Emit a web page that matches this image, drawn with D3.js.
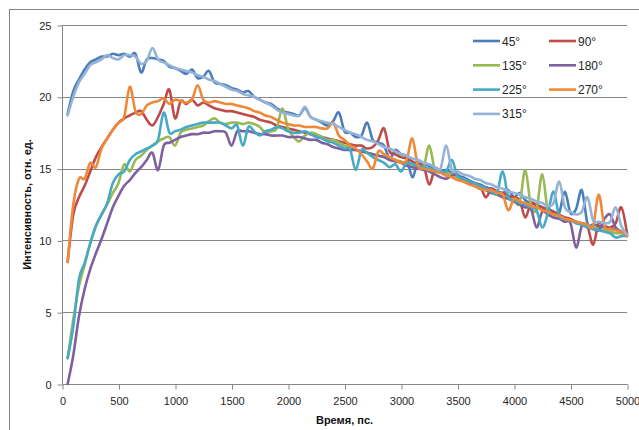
<!DOCTYPE html>
<html lang="ru">
<head>
<meta charset="UTF-8">
<title>Интенсивность</title>
<style>
  body { margin: 0; background: #fff; }
  svg { display: block; font-family: "Liberation Sans", Arial, sans-serif; }
  .tick text { font-size: 11px; fill: #262626; }
  .axis-title { font-size: 11px; font-weight: bold; fill: #111; }
  .legend text { font-size: 12px; fill: #262626; }
</style>
</head>
<body>
<svg id="chart" width="639" height="430"></svg>
<script src="https://cdn.jsdelivr.net/npm/d3@7"></script>
<script>
// time, ps (50 .. 5000 step 50)
const times = [
  50,100,150,200,250,300,350,400,450,500,
  550,600,650,700,750,800,850,900,950,1000,
  1050,1100,1150,1200,1250,1300,1350,1400,1450,1500,
  1550,1600,1650,1700,1750,1800,1850,1900,1950,2000,
  2050,2100,2150,2200,2250,2300,2350,2400,2450,2500,
  2550,2600,2650,2700,2750,2800,2850,2900,2950,3000,
  3050,3100,3150,3200,3250,3300,3350,3400,3450,3500,
  3550,3600,3650,3700,3750,3800,3850,3900,3950,4000,
  4050,4100,4150,4200,4250,4300,4350,4400,4450,4500,
  4550,4600,4650,4700,4750,4800,4850,4900,4950,5000
];

const seriesNames = ["45°", "90°", "135°", "180°", "225°", "270°", "315°"];
const seriesColors = ["#4a7ebb", "#be4b48", "#98b954", "#7d60a0", "#46aac5", "#f0883a", "#95b3d7"];

const s45 = [
  18.8,20.4,21.2,21.9,22.4,22.6,22.8,22.8,23.0,22.9,
  23.0,22.8,23.0,21.7,22.6,22.7,22.6,22.5,22.1,22.0,
  21.8,21.6,21.9,21.3,21.4,21.8,21.0,20.9,20.8,20.6,
  20.5,20.3,20.4,20.0,19.8,19.6,19.5,19.2,19.0,18.9,
  18.8,18.7,19.2,18.6,18.4,18.2,18.0,18.3,18.9,17.6,
  17.5,17.2,17.3,18.2,17.0,16.8,16.6,15.7,16.3,16.0,
  15.8,14.4,15.5,15.3,15.2,15.0,14.8,14.9,14.7,14.5,
  14.4,14.2,14.0,13.9,13.7,13.6,13.4,13.3,13.5,13.0,
  13.3,12.8,12.6,12.5,12.3,12.2,12.0,11.9,13.4,11.9,
  12.2,13.5,11.2,11.1,11.0,10.9,10.8,10.8,10.6,10.4
];
const s90 = [
  8.5,11.8,13.0,13.8,14.8,15.8,16.5,17.1,17.7,18.2,
  18.5,18.7,18.9,19.0,18.4,18.0,18.6,19.5,20.5,18.5,
  19.7,19.5,19.8,19.4,19.6,19.4,19.2,19.1,19.0,19.0,
  18.9,18.8,18.7,18.6,18.4,18.3,18.2,18.0,17.9,17.8,
  17.7,17.6,17.5,17.4,17.3,17.2,17.1,17.0,16.9,16.8,
  16.7,16.6,16.6,16.4,16.5,17.0,17.8,16.2,16.0,15.8,
  15.7,15.5,15.3,15.2,13.9,15.0,14.8,14.7,14.6,14.4,
  14.2,14.0,14.0,13.8,13.0,13.6,13.4,13.3,13.1,13.0,
  12.8,11.6,12.6,12.4,12.3,12.0,12.0,11.8,11.6,11.5,
  11.3,11.2,11.0,9.7,11.2,11.0,10.9,11.2,12.3,10.5
];
const s135 = [
  1.8,4.5,6.8,8.3,9.8,11.0,11.8,12.5,13.3,14.0,
  15.3,14.8,15.6,15.9,16.3,16.6,16.9,17.1,17.2,16.6,
  17.5,17.7,17.8,17.9,18.0,18.3,18.5,18.2,18.1,18.2,
  18.2,18.1,18.2,18.1,17.9,17.5,17.6,17.8,19.2,17.8,
  17.2,16.9,17.3,17.5,17.4,17.2,17.0,17.0,16.8,16.6,
  16.5,16.3,16.2,16.1,16.0,15.9,15.8,15.7,15.6,15.5,
  15.4,15.3,15.2,15.1,16.6,14.9,14.8,14.7,14.6,14.4,
  14.2,14.0,13.8,13.7,13.5,13.4,13.2,13.1,12.9,12.8,
  12.6,14.9,12.4,12.2,14.6,12.0,11.8,11.7,11.5,11.4,
  11.2,11.1,11.0,10.9,10.8,10.7,10.6,10.5,10.5,10.4
];
const s180 = [
  0.0,2.0,4.7,6.6,8.0,9.1,10.1,11.2,12.3,13.1,
  13.8,14.2,14.7,15.1,15.6,16.1,14.9,16.6,16.8,17.0,
  17.2,17.3,17.4,17.4,17.5,17.5,17.6,17.6,17.5,16.6,
  17.6,17.6,17.6,17.5,17.4,17.4,17.3,17.3,17.3,17.2,
  17.2,17.2,17.1,17.0,17.0,16.8,16.7,16.5,16.4,16.3,
  16.3,16.3,16.2,16.1,16.0,15.9,15.8,15.6,15.5,15.4,
  15.2,15.1,15.0,14.9,14.8,14.6,14.4,14.3,14.5,14.6,
  14.1,14.0,13.8,13.6,13.5,13.3,13.2,13.0,12.9,12.7,
  12.5,12.3,12.2,10.9,12.0,11.8,11.6,11.5,11.3,11.2,
  9.5,11.0,10.9,10.8,10.7,11.5,11.8,10.9,10.6,10.4
];
const s225 = [
  1.8,4.0,7.3,8.4,9.8,11.0,11.8,12.6,14.0,14.6,
  14.8,15.6,16.0,16.2,16.4,16.6,17.0,18.9,17.5,17.6,
  17.7,17.9,18.0,18.1,18.2,18.2,18.2,18.2,18.0,17.8,
  18.0,16.6,17.9,17.6,17.3,17.6,17.7,17.9,17.8,17.6,
  17.5,17.5,17.6,17.4,17.2,17.1,16.9,16.8,16.6,16.4,
  16.3,14.9,16.3,16.1,15.8,15.6,15.4,15.1,15.3,14.8,
  15.4,15.3,15.2,15.1,15.0,14.9,14.8,14.8,15.6,14.5,
  14.3,14.1,14.0,13.8,13.6,13.4,13.3,14.8,13.0,12.8,
  12.6,12.5,12.3,12.1,10.9,11.9,13.4,11.7,11.5,11.4,
  11.2,11.1,10.9,10.8,10.7,10.6,10.5,10.2,10.3,10.3
];
const s270 = [
  8.5,12.5,14.3,14.3,15.4,15.1,16.4,17.1,17.7,18.2,
  18.6,20.7,19.0,18.8,19.4,19.6,19.7,19.9,19.5,19.8,
  19.7,19.6,19.8,20.8,19.8,19.6,19.7,19.6,19.5,19.5,
  19.4,19.3,19.2,19.0,18.9,18.7,18.6,18.4,18.2,18.1,
  18.0,18.0,17.9,17.9,17.9,17.8,17.8,18.2,17.3,17.0,
  16.6,16.4,16.0,15.5,15.0,16.2,16.0,15.8,15.6,15.4,
  15.6,17.1,15.2,15.0,14.9,14.8,14.7,14.5,14.4,14.2,
  14.1,13.9,13.8,13.6,13.5,13.5,13.3,13.2,12.1,12.9,
  12.7,12.6,12.4,12.3,12.1,12.0,11.8,11.7,11.5,11.4,
  11.3,11.2,11.1,11.0,13.2,11.0,10.8,10.7,10.6,10.3
];
const s315 = [
  18.7,20.0,21.0,21.6,22.2,22.4,22.6,22.9,22.7,22.6,
  22.9,22.9,22.8,22.3,22.5,23.4,22.6,22.4,22.2,22.0,
  21.9,21.8,21.7,21.5,21.4,21.2,21.1,20.9,20.7,20.5,
  20.4,20.2,20.1,20.0,19.8,19.6,19.4,19.1,18.9,18.8,
  18.7,18.7,19.3,18.6,18.4,18.3,18.2,18.1,17.9,17.7,
  17.5,17.4,17.2,17.0,16.9,16.7,16.5,16.4,16.2,16.0,
  15.9,15.7,15.6,15.4,15.3,15.1,15.0,16.6,14.9,14.8,
  14.6,14.5,14.3,14.2,14.0,13.9,13.7,13.6,13.4,13.3,
  13.2,13.0,12.9,12.7,12.6,12.4,12.6,14.1,12.3,12.0,
  11.8,12.0,13.0,11.4,11.3,11.2,11.3,12.3,11.0,10.4
];
const seriesValues = [s45, s90, s135, s180, s225, s270, s315];

const yTicks = [0, 5, 10, 15, 20, 25];
const xTicks = [0, 500, 1000, 1500, 2000, 2500, 3000, 3500, 4000, 4500, 5000];

const svg = d3.select('#chart');
const gridColor = '#868686';

// chart frame (cut off on the right and bottom in the original)
svg.append('rect')
  .attr('x', 9.5).attr('y', 9.5)
  .attr('width', 700).attr('height', 500)
  .attr('fill', 'none').attr('stroke', gridColor).attr('stroke-width', 1);

const x = d3.scaleLinear().domain([0, 5000]).range([62, 627]);
const y = d3.scaleLinear().domain([0, 25]).range([384, 25]);

// horizontal gridlines
svg.append('g')
  .selectAll('line')
  .data(yTicks.filter(d => d > 0))
  .enter().append('line')
  .attr('x1', x(0)).attr('x2', x(5000))
  .attr('y1', d => Math.round(y(d)) + 0.5).attr('y2', d => Math.round(y(d)) + 0.5)
  .attr('stroke', gridColor).attr('stroke-width', 1);

// axes
const yAxis = svg.append('g')
  .attr('transform', 'translate(' + (x(0) + 0.5) + ',0.5)')
  .call(d3.axisLeft(y).tickValues(yTicks).tickSize(5).tickPadding(6).tickFormat(d3.format('d')));
const xAxis = svg.append('g')
  .attr('transform', 'translate(0.5,' + (Math.round(y(0)) + 0.5) + ')')
  .call(d3.axisBottom(x).tickValues(xTicks).tickSize(5).tickPadding(8).tickFormat(d3.format('d')));

[yAxis, xAxis].forEach(a => {
  a.select('.domain').attr('stroke', gridColor);
  a.selectAll('.tick line').attr('stroke', gridColor);
  a.selectAll('.tick text').attr('font-family', null).attr('font-size', null);
});
// outer domain ticks look like the excel ones: no end caps beyond the tick size
xAxis.select('.domain').attr('d', 'M' + x(0) + ',0H' + x(5000));
yAxis.select('.domain').attr('d', 'M0,' + y(25) + 'V' + y(0));

// axis titles
svg.append('text')
  .attr('class', 'axis-title')
  .attr('x', (x(0) + x(5000)) / 2).attr('y', 424)
  .attr('text-anchor', 'middle')
  .text('Время, пс.');
svg.append('text')
  .attr('class', 'axis-title')
  .attr('transform', 'translate(31,' + ((y(0) + y(25)) / 2) + ') rotate(-90)')
  .attr('text-anchor', 'middle')
  .text('Интенсивность,  отн. ед.');

// lines
const line = d3.line()
  .x((d, i) => x(times[i]))
  .y(d => y(d))
  .curve(d3.curveCardinal.tension(0));

svg.append('g')
  .selectAll('path')
  .data(seriesValues)
  .enter().append('path')
  .attr('d', line)
  .attr('fill', 'none')
  .attr('stroke', (d, i) => seriesColors[i])
  .attr('stroke-width', 2.6)
  .attr('stroke-linejoin', 'round')
  .attr('stroke-linecap', 'round');

// legend, two columns
const legend = svg.append('g').attr('class', 'legend');
const entries = legend.selectAll('g')
  .data(seriesNames)
  .enter().append('g')
  .attr('transform', (d, i) => 'translate(' + (i % 2 === 0 ? 473 : 549) + ',' + (41 + Math.floor(i / 2) * 24.3) + ')');
entries.append('line')
  .attr('x1', 0).attr('x2', 27).attr('y1', 0).attr('y2', 0)
  .attr('stroke', (d, i) => seriesColors[i])
  .attr('stroke-width', 2.6);
entries.append('text')
  .attr('x', 29).attr('y', 4.5)
  .text(d => d);
</script>
</body>
</html>
